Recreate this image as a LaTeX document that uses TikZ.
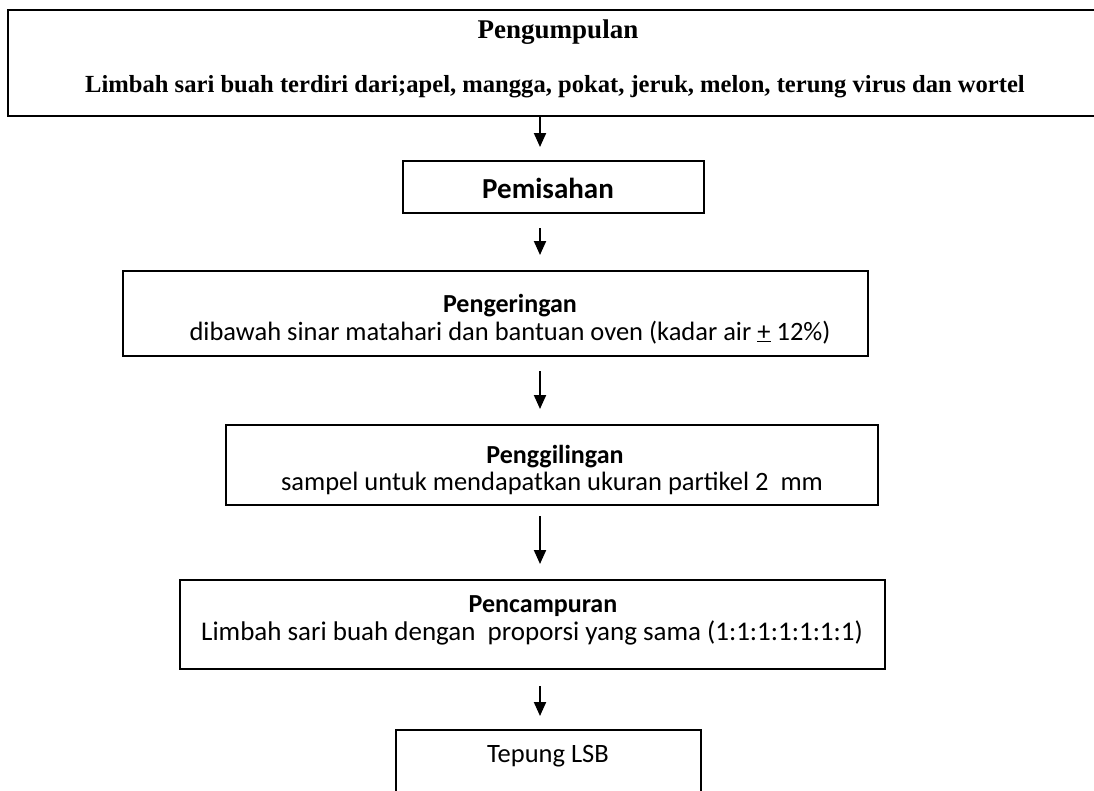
\documentclass[tikz,border=0pt]{standalone}
\usepackage{fontspec}
\setmainfont{Carlito}
\newfontfamily\timesf{Liberation Serif}
\usetikzlibrary{arrows.meta,calc}
\begin{document}
\begin{tikzpicture}[x=1pt,y=-1pt,
  box/.style={draw=black,line width=2pt,inner sep=0pt,fill=none},
  ttl/.style={anchor=base,inner sep=0pt,font=\fontsize{26}{30}\selectfont\bfseries},
  txt/.style={anchor=base,inner sep=0pt,font=\fontsize{26.5}{30}\selectfont},
  tms/.style={anchor=base,inner sep=0pt,font=\timesf\fontsize{24.6}{28}\selectfont\bfseries},
  arr/.style={line width=2pt,-{Triangle[length=14pt,width=12pt]}}]
\useasboundingbox (0,0) rectangle (1094,790);
\fill[white] (0,0) rectangle (1094,790);
% boxes
\node[box,minimum width=1092pt,minimum height=106pt] (b1) at (554,63) {};
\node[box,minimum width=301pt,minimum height=52pt] (b2) at (553.5,187) {};
\node[box,minimum width=745pt,minimum height=85pt] (b3) at (495.5,313.5) {};
\node[box,minimum width=652pt,minimum height=80pt] (b4) at (552,465) {};
\node[box,minimum width=705pt,minimum height=89pt] (b5) at (532.5,624.5) {};
\node[box,minimum width=305pt,minimum height=100pt] (b6) at (548.5,780) {};
% texts
\node[tms,font=\timesf\fontsize{27}{30}\selectfont\bfseries] (t1a) at (558,38) {Pengumpulan};
\node[tms] (t1b) at (555,92) {Limbah sari buah terdiri dari;apel, mangga, pokat, jeruk, melon, terung virus dan wortel};
\node[ttl,font=\fontsize{29}{32}\selectfont\bfseries] (t2) at (548,198) {Pemisahan};
\node[ttl] (t3a) at (510,312) {Pengeringan};
\node[txt] (t3b) at (510,340) {dibawah sinar matahari dan bantuan oven (kadar air \underline{+} 12\%)};
\node[ttl] (t4a) at (555,463) {Penggilingan};
\node[txt] (t4b) at (552,490) {sampel untuk mendapatkan ukuran partikel 2~~mm};
\node[ttl] (t5a) at (543,612) {Pencampuran};
\node[txt,font=\fontsize{27}{30}\selectfont] (t5b) at (532,640) {Limbah sari buah dengan~~proporsi yang sama (1:1:1:1:1:1:1)};
\node[txt] (t6) at (548,762) {Tepung LSB};
% arrows
\coordinate (ax) at (540,0);
\draw[arr] (b1.south -| ax) -- ([yshift=13pt]b2.north -| ax);
\draw[arr] ([yshift=-14pt]b2.south -| ax) -- ([yshift=15pt]b3.north -| ax);
\draw[arr] ([yshift=-14pt]b3.south -| ax) -- ([yshift=15pt]b4.north -| ax);
\draw[arr] ([yshift=-10pt]b4.south -| ax) -- ([yshift=15pt]b5.north -| ax);
\draw[arr] ([yshift=-16pt]b5.south -| ax) -- ([yshift=13pt]b6.north -| ax);
\end{tikzpicture}
\end{document}
